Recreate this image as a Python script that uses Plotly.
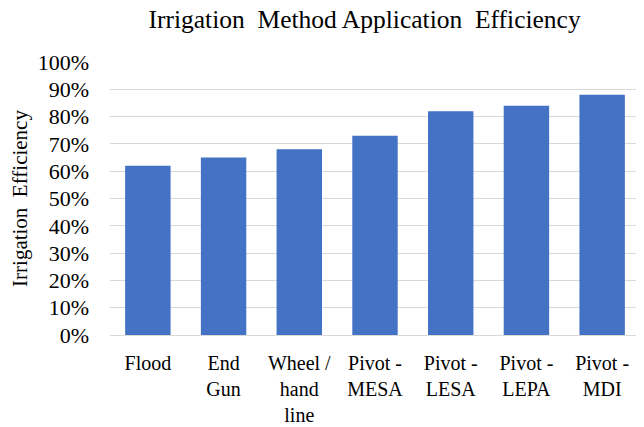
import plotly.graph_objects as go

categories = ["Flood", "End<br>Gun", "Wheel /<br>hand<br>line", "Pivot -<br>MESA",
              "Pivot -<br>LESA", "Pivot -<br>LEPA", "Pivot -<br>MDI"]
efficiency = [0.62, 0.65, 0.68, 0.73, 0.82, 0.84, 0.88]
y_ticks = [i / 10 for i in range(11)]
y_tick_labels = [f"{i * 10}%" for i in range(11)]

serif = "Times New Roman"

fig = go.Figure(go.Bar(x=categories, y=efficiency, marker=dict(color="#4472C4", line=dict(width=0)),
                       width=0.6))

# page body adds an 8px offset, so the figure is 8px smaller and margins shifted
fig.update_layout(
    width=636, height=419,
    margin=dict(l=102, r=4, t=54, b=92, autoexpand=False),
    paper_bgcolor="white", plot_bgcolor="white",
    showlegend=False,
    title=dict(text="Irrigation\u00a0\u00a0Method Application\u00a0\u00a0Efficiency",
               x=0.5607, xanchor="center", y=0.9726, yanchor="middle",
               font=dict(family=serif, size=25.5, color="black")),
    font=dict(family=serif, size=22, color="black"),
)
fig.update_yaxes(range=[0, 1], tickmode="array", tickvals=y_ticks, ticktext=y_tick_labels,
                 showgrid=True, gridcolor="#d9d9d9", gridwidth=1, zeroline=False,
                 ticks="", ticklabelstandoff=20, automargin=False,
                 title=dict(text="Irrigation\u00a0\u00a0Efficiency", standoff=12,
                            font=dict(family=serif, size=21, color="black")),
                 tickfont=dict(family=serif, size=22, color="black"))
fig.update_xaxes(showline=True, linecolor="#d9d9d9", linewidth=1, ticks="",
                 automargin=False, ticklabelstandoff=10,
                 tickangle=0, tickfont=dict(family=serif, size=20, color="black"))

fig.write_html("out.html")
